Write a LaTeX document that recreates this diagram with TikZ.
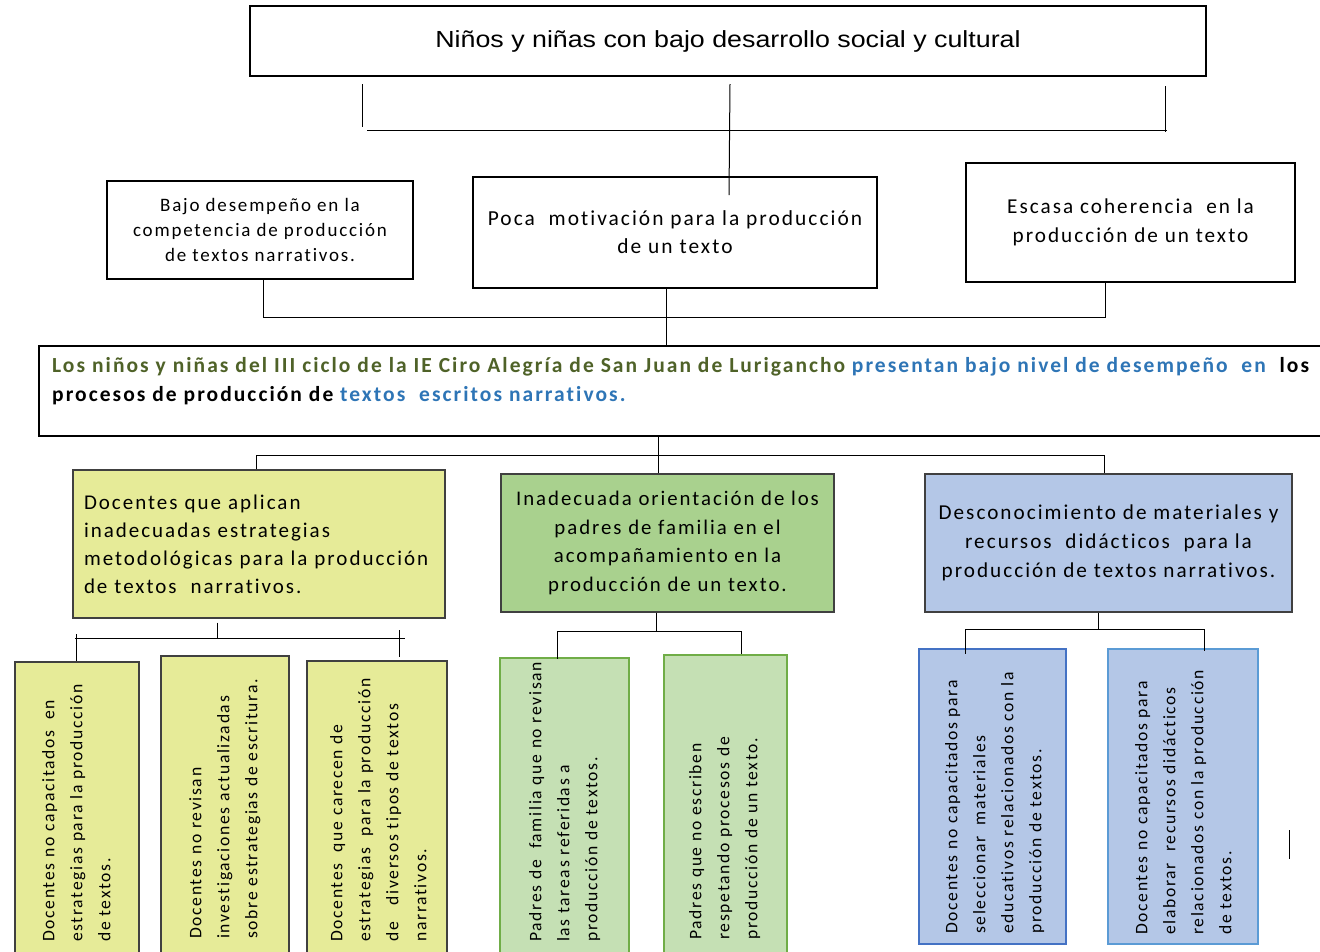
\documentclass[tikz,border=0pt]{standalone}
\usepackage{graphicx}
\usepackage{fontspec}
\setmainfont{Carlito}
\newfontfamily\calsp[LetterSpace=9.5,Ligatures=NoCommon]{Carlito}
\newfontfamily\arialf{Liberation Sans}
\definecolor{yfill}{HTML}{E6EB98}
\definecolor{gfill}{HTML}{A9D18E}
\definecolor{bfill}{HTML}{B4C7E7}
\definecolor{lgfill}{HTML}{C5E0B4}
\definecolor{gline}{HTML}{70AD47}
\definecolor{blineA}{HTML}{4472C4}
\definecolor{blineB}{HTML}{5B9BD5}
\definecolor{tgreen}{HTML}{4F6228}
\definecolor{tblue}{HTML}{2E75B6}
\definecolor{frame}{HTML}{404040}
\begin{document}
\begin{tikzpicture}[x=1pt,y=-1pt,
  bx/.style={draw=black, line width=1.1pt, fill=white, inner sep=0pt, align=center},
  ln/.style={draw=black, line width=1pt},
  ybox/.style={draw=frame, line width=1.3pt, fill=yfill, inner sep=0pt},
  gbox/.style={draw=gline, line width=2.2pt, fill=lgfill, inner sep=0pt},
  rt/.style={rotate=90, anchor=north west, align=left, inner sep=0pt,
    font=\calsp\fontsize{17.6}{28}\selectfont},
  txt/.style={inner sep=0pt, anchor=base west, font=\calsp\bfseries\fontsize{21.5}{29}\selectfont}
]
\clip (0,0) rectangle (1320,951);
\fill[white] (0,0) rectangle (1320,951);

% ---- top level boxes
\node[bx, line width=1.4pt, minimum width=956, minimum height=70] (top) at (728,41)
  {\arialf\fontsize{23.3}{28}\selectfont\scalebox{1.15}[1]{Niños y niñas con bajo desarrollo social y cultural}};
\node[bx, minimum width=306, minimum height=98, font=\calsp\fontsize{19}{25}\selectfont] (b1) at (260,230)
  {Bajo desempeño en la\\competencia de producción\\de textos narrativos.};
\node[bx, minimum width=404, minimum height=111, font=\calsp\fontsize{21.4}{28}\selectfont] (b2) at (675,232.5)
  {Poca\ \ motivación para la producción\\de un texto};
\node[bx, minimum width=329, minimum height=119, font=\calsp\fontsize{21.2}{29}\selectfont] (b3) at (1130.5,222.5)
  {Escasa coherencia\ \ en la\\producción de un texto};

% ---- central problem box
\node[bx, minimum width=1301, minimum height=90] (cb) at (689.5,391) {};
\node[txt] (c1) at (52,372) {{\color{tgreen}Los niños y niñas del III ciclo de la IE Ciro Alegría de San Juan de Lurigancho} {\color{tblue}presentan bajo nivel de desempeño\ \ en}\ \ los};
\node[txt] (c2) at (52,401) {procesos de producción de {\color{tblue}textos\ \ escritos narrativos.}};

% ---- cause boxes
\node[ybox, minimum width=372, minimum height=148, text width=350, align=left,
  font=\calsp\fontsize{21}{28}\selectfont] (Y) at (259,544)
  {Docentes que aplican\\inadecuadas estrategias\\metodológicas para la producción\\de textos\ \ narrativos.};
\node[draw=frame, line width=1.3pt, fill=gfill, inner sep=0pt, minimum width=333, minimum height=138,
  align=center, font=\calsp\fontsize{20.8}{28.5}\selectfont] (G) at (667.5,543)
  {Inadecuada orientación de los\\padres de familia en el\\acompañamiento en la\\producción de un texto.};
\node[draw=frame, line width=1.3pt, fill=bfill, inner sep=0pt, minimum width=367, minimum height=138,
  align=center, font=\calsp\fontsize{21.2}{29}\selectfont] (B) at (1108.5,543)
  {Desconocimiento de materiales y\\recursos\ \ didácticos\ \ para la\\producción de textos narrativos.};

% ---- sub-cause boxes
\node[ybox, minimum width=124, minimum height=298] (y1) at (77,811) {};
\node[ybox, minimum width=128, minimum height=304] (y2) at (225,808) {};
\node[ybox, minimum width=140, minimum height=299] (y3) at (377,810.5) {};
\node[gbox, minimum width=129, minimum height=302] (g1) at (564.5,809) {};
\node[gbox, minimum width=123, minimum height=305] (g2) at (725.5,807.5) {};
\node[draw=blineA, line width=2.4pt, fill=bfill, inner sep=0pt, minimum width=147, minimum height=295] (bl1) at (992.5,796.5) {};
\node[draw=blineB, line width=2.4pt, fill=bfill, inner sep=0pt, minimum width=150, minimum height=295] (bl2) at (1183,796.5) {};

\node[rt] (ty1) at (42,942) {Docentes no capacitados\ \ en\\estrategias para la producción\\de textos.};
\node[rt] (ty2) at (189,939) {Docentes no revisan\\investigaciones actualizadas\\sobre estrategias de escritura.};
\node[rt] (ty3) at (330,942) {Docentes\ \ que carecen de\\estrategias\ \ para la producción\\de\ \ \ diversos tipos de textos\\narrativos.};
\node[rt] (tg1) at (529,942) {Padres de\ \ familia que no revisan\\las tareas referidas a\\producción de textos.};
\node[rt] (tg2) at (689,940) {Padres que no escriben\\respetando procesos de\\producción de un texto.};
\node[rt] (tb1) at (945,934) {Docentes no capacitados para\\seleccionar\ \ materiales\\educativos relacionados con la\\producción de textos.};
\node[rt] (tb2) at (1135,935) {Docentes no capacitados para\\elaborar\ \ recursos didácticos\\relacionados con la producción\\de textos.};

% ---- top bracket
\coordinate (ta) at (362,84);  \coordinate (tb) at (362,127);
\coordinate (tc) at (367,130); \coordinate (td) at (1167,130);
\coordinate (te) at (1165,86); \coordinate (tf) at (1165,132);
\coordinate (tg) at (730,84);  \coordinate (th) at (729,195);
\draw[ln] (ta) -- (tb);
\draw[ln] (tc) -- (td);
\draw[ln] (te) -- (tf);
\draw[ln] (tg) -- (th);

% ---- middle bracket
\coordinate (m1) at (263,317); \coordinate (m2) at (1105,317); \coordinate (m3) at (666,317);
\draw[ln] (b1.south -| m1) -- (m1) -- (m2) -- (b3.south -| m2);
\draw[ln] (b2.south -| m3) -- (cb.north -| m3);

% ---- lower bracket
\coordinate (l1) at (256,455); \coordinate (l2) at (1104,455); \coordinate (l3) at (658,455);
\draw[ln] (Y.north -| l1) -- (l1) -- (l2) -- (B.north -| l2);
\draw[ln] (cb.south -| l3) -- (G.north -| l3);

% ---- yellow sub bracket
\coordinate (ya) at (217,638); \coordinate (yb) at (75,638); \coordinate (yc) at (405,638);
\coordinate (yd) at (76,634); \coordinate (ye) at (399,630); \coordinate (yf) at (399,657);
\draw[ln] ([yshift=-4pt]Y.south -| ya) -- (ya);
\draw[ln] (yb) -- (yc);
\draw[ln] (yd) -- (y1.north -| yd);
\draw[ln] (ye) -- (yf);

% ---- green sub bracket
\coordinate (ga) at (656,631); \coordinate (gb) at (557,631); \coordinate (gc) at (741,631);
\draw[ln] (G.south -| ga) -- (ga);
\draw[ln] (gb) -- (gc);
\draw[ln] (gb) -- ([yshift=-2pt]g1.north -| gb);
\draw[ln] (gc) -- (g2.north -| gc);

% ---- blue sub bracket
\coordinate (ba) at (1098,629); \coordinate (bb) at (965,629); \coordinate (bc) at (1204,629);
\draw[ln] (B.south -| ba) -- (ba);
\draw[ln] (bb) -- (bc);
\draw[ln] (bb) -- ([yshift=-6pt]bl1.north -| bb);
\draw[ln] (bc) -- ([yshift=-3pt]bl2.north -| bc);

% ---- stray mark
\coordinate (s1) at (1289,830); \coordinate (s2) at (1289,859);
\draw[ln] (s1) -- (s2);
\end{tikzpicture}
\end{document}
